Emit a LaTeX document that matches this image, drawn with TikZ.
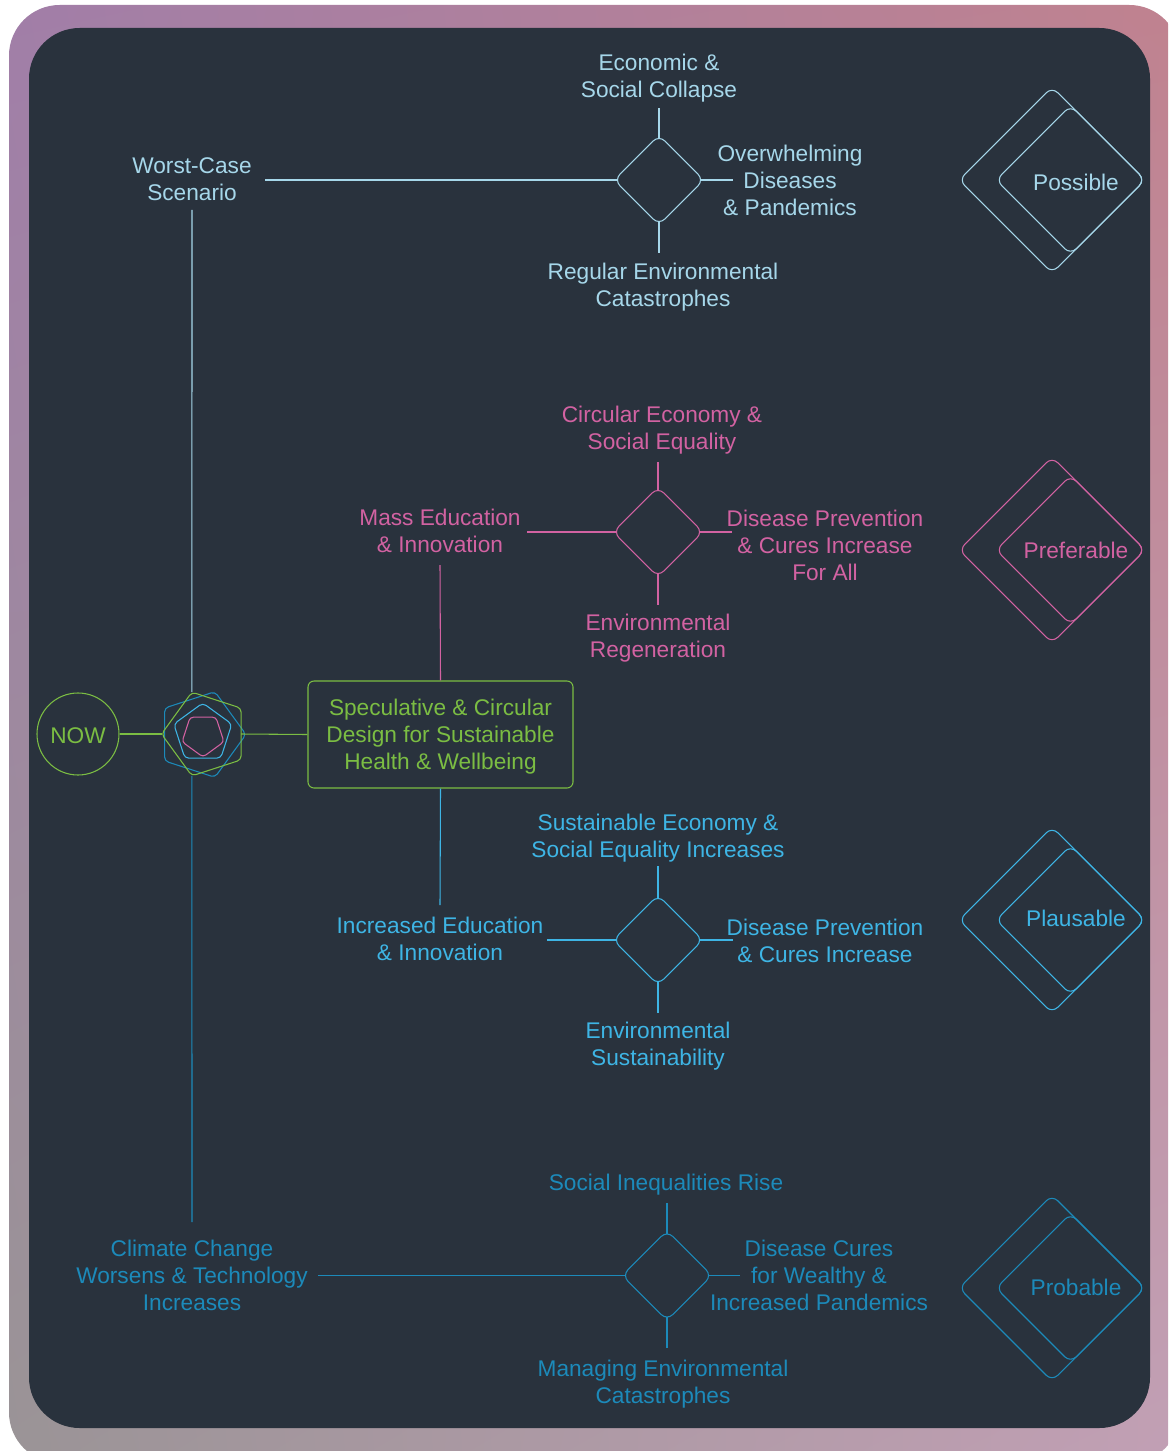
\documentclass[tikz,border=0pt]{standalone}
\usepackage{fontspec}
\setmainfont{Liberation Sans}
\usetikzlibrary{shapes.geometric,calc,shadings}

\definecolor{bgdark}{HTML}{29323D}
\definecolor{possc}{HTML}{A6D7EA}
\definecolor{prefc}{HTML}{D262A2}
\definecolor{plausc}{HTML}{3EB5E5}
\definecolor{probc}{HTML}{1C8ABA}
\definecolor{greenc}{HTML}{7BBD43}
\definecolor{frameTL}{RGB}{161,126,168}
\definecolor{frameTR}{RGB}{192,130,143}
\definecolor{frameBL}{RGB}{154,148,150}
\definecolor{frameBR}{RGB}{194,160,181}

\begin{document}
\begin{tikzpicture}[x=0.75pt,y=-0.75pt,
  txtfont/.style={font=\fontsize{17}{20.25}\selectfont},
  lbl/.style={txtfont, align=center, inner sep=0pt, yshift=-1.8pt},
  keylbl/.style={txtfont, inner sep=0pt},
  link/.style={line width=0.8pt},
  dmd/.style={diamond, draw, line width=0.8pt, minimum width=67.2pt,
              minimum height=67.2pt, inner sep=0pt, outer sep=0pt, rounded corners=6pt},
  fromdmd/.style={link, shorten <=-2.4pt},
  legendmark/.style={line width=0.8pt, rounded corners=6pt}]

\useasboundingbox (0,0) rectangle (1168,1451);
\clip (0,0) rectangle (1168,1451);

% frame and dark panel
\fill[white] (0,0) rectangle (1168,1451);
\shade[upper left=frameTL, upper right=frameTR, lower left=frameBL,
       lower right=frameBR, rounded corners=38pt] (9,5) rectangle (1180,1463);
\fill[bgdark, rounded corners=38pt] (29,28) rectangle (1150,1428);

% ---------- starting point ----------
\node[circle, draw=greenc, line width=0.8pt, minimum size=61.5pt, inner sep=0pt,
      text=greenc, txtfont] (now) at (78,734) {\raisebox{-1.5pt}[\height][\depth]{NOW}};

% nested pentagons
\coordinate (gc) at (205.5,734);
\coordinate (bc) at (201,734.5);
\coordinate (lc) at (202.8,733.5);
\coordinate (pc) at (203,735);
\coordinate (gleft) at ($(gc)+(180:44)$);
\coordinate (gtop) at ($(gc)+(252:44)$);
\coordinate (gbot) at ($(gc)+(108:44)$);
\coordinate (gright) at ($(gc)+(35.6,0)$);

\draw[probc, line width=0.8pt, rounded corners=3pt]
  ($(bc)+(0:45)$) -- ($(bc)+(72:45)$) -- ($(bc)+(144:45)$) -- ($(bc)+(216:45)$) -- ($(bc)+(288:45)$) -- cycle;
\draw[greenc, line width=0.8pt, rounded corners=3pt]
  (gleft) -- (gtop) -- ($(gc)+(324:44)$) -- ($(gc)+(36:44)$) -- (gbot) -- cycle;
\draw[plausc, line width=0.8pt, rounded corners=3pt]
  ($(lc)+(270:30.5)$) -- ($(lc)+(342:30.5)$) -- ($(lc)+(54:30.5)$) -- ($(lc)+(126:30.5)$) -- ($(lc)+(198:30.5)$) -- cycle;
\draw[prefc, line width=0.8pt, rounded corners=2.5pt]
  ($(pc)+(90:22)$) -- ($(pc)+(162:22)$) -- ($(pc)+(234:22)$) -- ($(pc)+(306:22)$) -- ($(pc)+(18:22)$) -- cycle;

% central design box
\node[draw=greenc, line width=0.8pt, rounded corners=4.5pt, minimum width=198.75pt,
      minimum height=80.25pt, text=greenc, txtfont, align=center, inner sep=0pt] (box) at (440.5,734.5)
      {\raisebox{-1.5pt}[\height][\depth]{\parbox{190pt}{\centering Speculative \& Circular\\Design for Sustainable\\Health \& Wellbeing}}};

\draw[greenc, link] (now.east) -- (gleft);
\draw[greenc, link] (gright) -- (box.west);

% ---------- possible ----------
\node[lbl, text=possc] (wc) at (192,177.2) {Worst-Case\\Scenario};
\node[dmd, draw=possc] (d1) at (659,180) {};
\node[lbl, text=possc] (t1) at (659,75.5) {Economic \&\\Social Collapse};
\node[lbl, text=possc] (r1) at (790,177.7) {Overwhelming\\Diseases\\\& Pandemics};
\node[lbl, text=possc] (b1) at (663,284.5) {Regular Environmental\\Catastrophes};
\coordinate (wcE) at (265,180);
\coordinate (wcS) at (192,210);
\coordinate (t1e) at (659,108);
\coordinate (r1e) at (733,180);
\coordinate (b1e) at (659,253);
\draw[possc, fromdmd] (d1.west) -- (wcE);
\draw[possc, fromdmd] (d1.north) -- (t1e);
\draw[possc, fromdmd] (d1.east) -- (r1e);
\draw[possc, fromdmd] (d1.south) -- (b1e);
\draw[possc, link] (wcS) -- (gtop);

% ---------- preferable ----------
\node[dmd, draw=prefc] (d2) at (658,532) {};
\node[lbl, text=prefc] (t2) at (662,427.5) {Circular Economy \&\\Social Equality};
\node[lbl, text=prefc] (l2) at (440,528.7) {Mass Education\\\& Innovation};
\node[lbl, text=prefc] (r2) at (825,542.7) {Disease Prevention\\\& Cures Increase\\For All};
\node[lbl, text=prefc] (b2) at (658,635.5) {Environmental\\Regeneration};
\coordinate (t2e) at (658,462);
\coordinate (l2e) at (527,532);
\coordinate (r2e) at (732,532);
\coordinate (b2e) at (658,605);
\coordinate (l2s) at (440,565);
\draw[prefc, fromdmd] (d2.north) -- (t2e);
\draw[prefc, fromdmd] (d2.west) -- (l2e);
\draw[prefc, fromdmd] (d2.east) -- (r2e);
\draw[prefc, fromdmd] (d2.south) -- (b2e);
\draw[prefc, link] (box.north) -- (l2s);

% ---------- plausible ----------
\node[dmd, draw=plausc] (d3) at (658,940) {};
\node[lbl, text=plausc] (t3) at (658,835.5) {Sustainable Economy \&\\Social Equality Increases};
\node[lbl, text=plausc] (l3) at (440,936.2) {Increased Education\\\& Innovation};
\node[lbl, text=plausc] (r3) at (825,938.2) {Disease Prevention\\\& Cures Increase};
\node[lbl, text=plausc] (b3) at (658,1043.5) {Environmental\\Sustainability};
\coordinate (t3e) at (658,866);
\coordinate (l3e) at (547,940);
\coordinate (r3e) at (733,940);
\coordinate (b3e) at (658,1013);
\coordinate (l3n) at (440,905);
\draw[plausc, fromdmd] (d3.north) -- (t3e);
\draw[plausc, fromdmd] (d3.west) -- (l3e);
\draw[plausc, fromdmd] (d3.east) -- (r3e);
\draw[plausc, fromdmd] (d3.south) -- (b3e);
\draw[plausc, link] (box.south) -- (l3n);

% ---------- probable ----------
\node[dmd, draw=probc] (d4) at (667,1275.5) {};
\node[lbl, text=probc] (t4) at (666,1182) {Social Inequalities Rise};
\node[lbl, text=probc] (l4) at (192,1273.2) {Climate Change\\Worsens \& Technology\\Increases};
\node[lbl, text=probc] (r4) at (819,1273.2) {Disease Cures\\for Wealthy \&\\Increased Pandemics};
\node[lbl, text=probc] (b4) at (663,1381.5) {Managing Environmental\\Catastrophes};
\coordinate (t4e) at (667,1203);
\coordinate (l4e) at (318,1275.5);
\coordinate (r4e) at (740,1275.5);
\coordinate (b4e) at (667,1348);
\coordinate (l4n) at (192,1222);
\draw[probc, fromdmd] (d4.north) -- (t4e);
\draw[probc, fromdmd] (d4.west) -- (l4e);
\draw[probc, fromdmd] (d4.east) -- (r4e);
\draw[probc, fromdmd] (d4.south) -- (b4e);
\draw[probc, link] (gbot) -- (l4n);

% ---------- legend ----------
\foreach \yc/\ty/\col/\name/\word in {180/182/possc/lgposs/Possible, 550/550/prefc/lgpref/Preferable,
                                      920/918/plausc/lgplaus/Plausable, 1288/1287/probc/lgprob/Probable}{
  \draw[\col, legendmark] (959,\yc) -- (1052,\yc-93) -- (1145,\yc) -- (1052,\yc+93) -- cycle;
  \draw[\col, legendmark] (996,\yc) -- (1070.5,\yc-74.5) -- (1145,\yc) -- (1070.5,\yc+74.5) -- cycle;
  \node[keylbl, text=\col] (\name) at (1076,\ty) {\word};
}

\end{tikzpicture}
\end{document}
